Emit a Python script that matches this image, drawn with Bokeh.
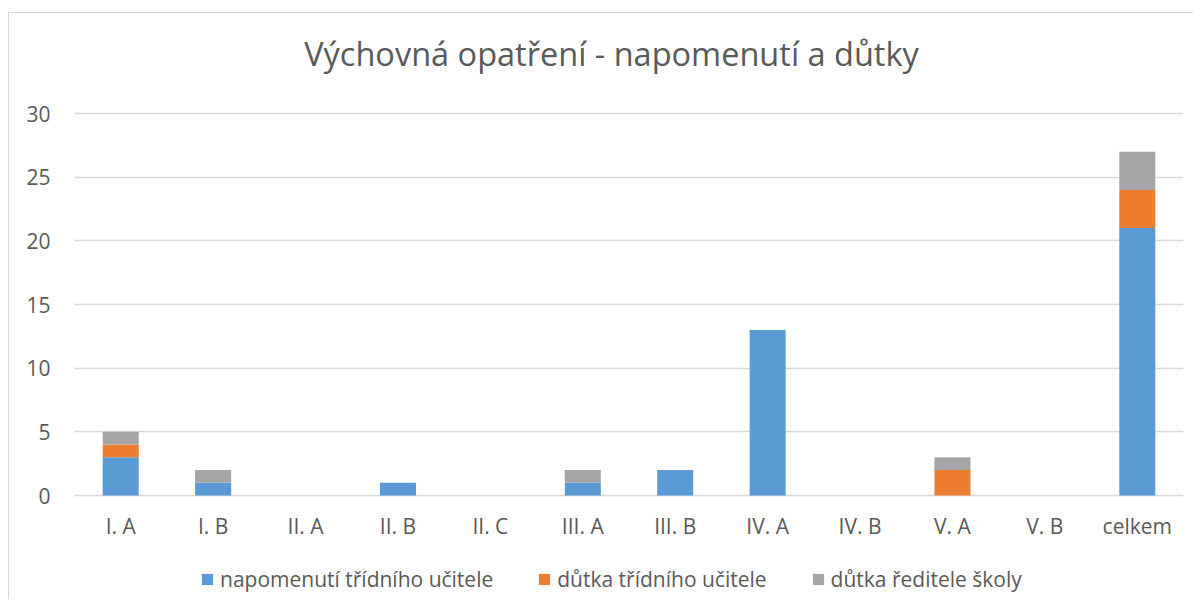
from bokeh.plotting import figure
from bokeh.models import ColumnDataSource, Legend, LegendItem, Label
from bokeh.embed import file_html
from bokeh.resources import INLINE

categories = ["I. A", "I. B", "II. A", "II. B", "II. C", "III. A", "III. B",
              "IV. A", "IV. B", "V. A", "V. B", "celkem"]
napomenuti = [3, 1, 0, 1, 0, 1, 2, 13, 0, 0, 0, 21]
dutka_tu = [1, 0, 0, 0, 0, 0, 0, 0, 0, 2, 0, 3]
dutka_rs = [1, 1, 0, 0, 0, 1, 0, 0, 0, 1, 0, 3]
series = ["napomenutí třídního učitele", "důtka třídního učitele", "důtka ředitele školy"]
y_ticks = [0, 5, 10, 15, 20, 25, 30]
title_text = "Výchovná opatření - napomenutí a důtky"
colors = ["#5B9BD5", "#ED7D31", "#A5A5A5"]
keys = ["nap", "dtu", "drs"]

source = ColumnDataSource(dict(cat=categories, nap=napomenuti, dtu=dutka_tu, drs=dutka_rs))

FONT = "Open Sans"
TXT = "#595959"

# frame spans the whole chart height; value axis 0..30 occupies 382 px of it
PX_PER_UNIT = 382 / 30
ABOVE_PX = 100   # space above the 30 line (title area)
BELOW_PX = 104   # space below the 0 line (category labels + legend)
FRAME_H = 382 + ABOVE_PX + BELOW_PX

p = figure(x_range=categories,
           y_range=(-BELOW_PX / PX_PER_UNIT, 30 + ABOVE_PX / PX_PER_UNIT),
           frame_width=1109, frame_height=FRAME_H,
           min_border_left=65, min_border_right=10,
           min_border_top=0, min_border_bottom=0,
           output_backend="svg", toolbar_location=None)
p.styles = {"border-left": "1px solid #d9d9d9", "border-top": "1px solid #d9d9d9",
            "margin-top": "12px", "margin-left": "8px"}

renderers = p.vbar_stack(keys, x="cat", width=0.39, color=colors, source=source,
                         line_color=None)

p.outline_line_color = None
p.xgrid.grid_line_color = None
p.ygrid.grid_line_color = "#d9d9d9"
p.ygrid.grid_line_width = 1.5
p.yaxis.ticker = y_ticks
p.xaxis.fixed_location = 0
for ax in (p.xaxis[0], p.yaxis[0]):
    ax.axis_line_color = None
    ax.major_tick_line_color = None
    ax.minor_tick_line_color = None
    ax.major_label_text_font = FONT
    ax.major_label_text_font_size = "21px"
    ax.major_label_text_color = TXT
p.xaxis.major_label_standoff = 10
p.yaxis.major_label_standoff = 18
p.x_range.range_padding = 0.0

title = Label(x=537, y=FRAME_H - 40, x_units="screen", y_units="screen",
              text=title_text, text_align="center", text_baseline="alphabetic",
              text_font=FONT, text_font_size="32.5px", text_color=TXT)
p.add_layout(title)

legend = Legend(items=[LegendItem(label=s, renderers=[r]) for s, r in zip(series, renderers)],
                orientation="horizontal", location=(126, 6),
                label_text_font=FONT, label_text_font_size="21px", label_text_color=TXT,
                glyph_width=14, glyph_height=14, label_standoff=6, spacing=44,
                border_line_color=None, background_fill_alpha=0, margin=0, padding=0)
p.add_layout(legend, "center")

open("out.html", "w").write(file_html(p, INLINE))
